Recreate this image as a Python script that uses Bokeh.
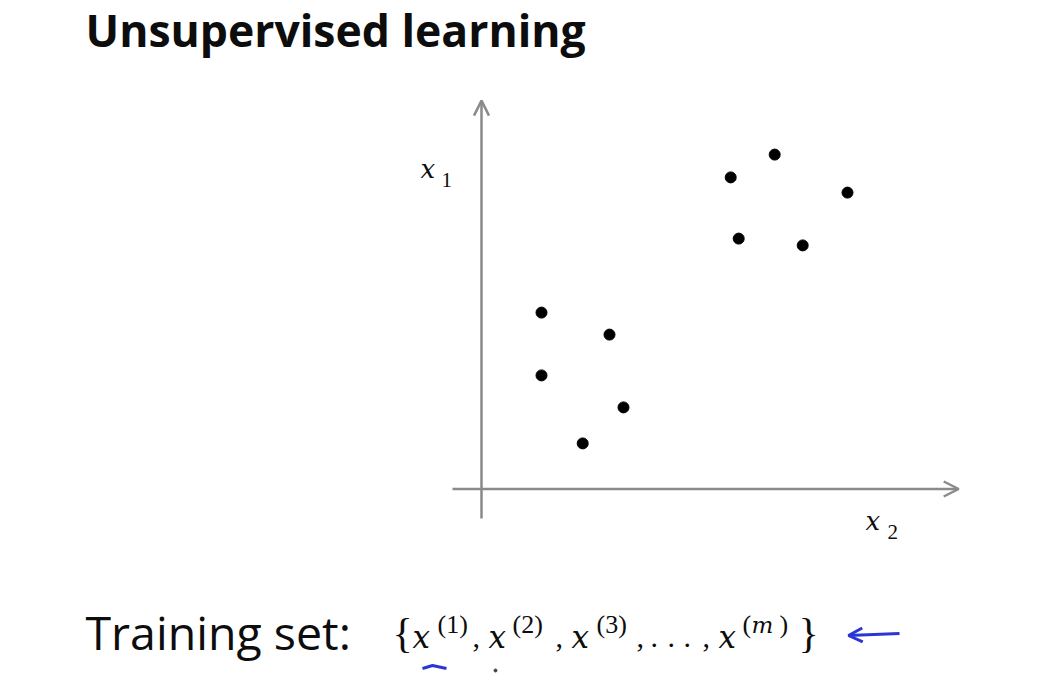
from bokeh.plotting import figure
from bokeh.models import Range1d, Arrow, OpenHead, ColumnDataSource
from bokeh.core.properties import value
from bokeh.embed import file_html
from bokeh.resources import INLINE

# ---- data (x2 horizontal, x1 vertical) ----
x2_values = [6.23, 7.33, 9.15, 6.43, 8.03, 1.50, 3.20, 1.50, 3.55, 2.53]
x1_values = [7.79, 8.36, 7.41, 6.26, 6.09, 4.41, 3.86, 2.84, 2.04, 1.14]

title_text = "Unsupervised learning"
training_text = "Training set:"

W, H = 1042, 678
PX_PER_UNIT = 40.0
ORIGIN_PAGE = (481.0, 488.5)
x_start = -ORIGIN_PAGE[0] / PX_PER_UNIT
y_start = -(H - ORIGIN_PAGE[1]) / PX_PER_UNIT

p = figure(width=W, height=H, output_backend="svg", toolbar_location=None,
           x_range=Range1d(x_start, x_start + W / PX_PER_UNIT),
           y_range=Range1d(y_start, y_start + H / PX_PER_UNIT),
           min_border=0, outline_line_color=None,
           background_fill_color="white", border_fill_color="white")
p.axis.visible = False
p.grid.visible = False
# page-pixel coordinate system for the slide's texts
p.extra_x_ranges = {"px": Range1d(0, W)}
p.extra_y_ranges = {"px": Range1d(H, 0)}

AXIS_COLOR = "#8a8a8a"
# axes with arrow heads
p.add_layout(Arrow(end=OpenHead(size=15, line_color=AXIS_COLOR, line_width=2.5),
                   x_start=-0.725, y_start=0, x_end=11.93, y_end=0,
                   line_color=AXIS_COLOR, line_width=2.5))
p.add_layout(Arrow(end=OpenHead(size=15, line_color=AXIS_COLOR, line_width=2.5),
                   x_start=0, y_start=-0.74, x_end=0, y_end=9.71,
                   line_color=AXIS_COLOR, line_width=2.5))

# data points
p.scatter(x2_values, x1_values, size=11, color="black")

# ---- texts (x = left edge, y = baseline, page pixels) ----
texts = [title_text, training_text,
         "x", "1", "x", "2",
         "{", "x", "(1)", ",", "x", "(2)", ",", "x", "(3)", ",",
         ".", ".", ".", ",", "x", "(", "m", ")", "}"]
tx = [85, 85,
      420, 441, 865, 887,
      392, 412, 437, 472, 488, 512, 555, 571, 596, 636,
      650, 667, 683, 702, 718, 742, 751, 779, 798]
ty = [46, 650,
      178, 187, 530, 539,
      647, 647, 633, 647, 647, 633, 647, 647, 633, 647,
      647, 647, 647, 647, 647, 633, 633, 633, 647]
fonts = ["Open Sans", "Open Sans",
         "DejaVu Serif", "Liberation Serif", "DejaVu Serif", "Liberation Serif",
         "Liberation Serif", "DejaVu Serif", "Liberation Serif", "Liberation Serif",
         "DejaVu Serif", "Liberation Serif", "Liberation Serif",
         "DejaVu Serif", "Liberation Serif", "Liberation Serif",
         "Liberation Serif", "Liberation Serif", "Liberation Serif", "Liberation Serif",
         "DejaVu Serif", "Liberation Serif", "DejaVu Serif", "Liberation Serif",
         "Liberation Serif"]
sizes = [44.5, 46.5,
         26, 21, 26, 21,
         42, 31, 26, 30, 31, 26, 30, 31, 26, 30,
         30, 30, 30, 30, 31, 26, 23, 26, 42]
styles = ["bold", "normal",
          "italic", "normal", "italic", "normal",
          "normal", "italic", "normal", "normal", "italic", "normal", "normal",
          "italic", "normal", "normal",
          "normal", "normal", "normal", "normal", "italic", "normal", "italic",
          "normal", "normal"]
# the svg renderer draws with the em-box middle at y: shift so the baseline lands right
MID = {"Open Sans": 0.39, "DejaVu Serif": 0.35, "Liberation Serif": 0.34}
ty_mid = [y - MID[f] * s for y, s, f in zip(ty, sizes, fonts)]

src = ColumnDataSource(dict(text=texts, x=tx, y=ty_mid, font=fonts,
                            size=[f"{s}px" for s in sizes], style=styles))
p.text(x="x", y="y", text="text", source=src, x_range_name="px", y_range_name="px",
       text_font="font", text_font_size="size", text_font_style="style",
       text_color="#0d0d0d", text_align="left", text_baseline="middle")

# blue pen annotations
BLUE = "#2a35d6"
p.add_layout(Arrow(end=OpenHead(size=14, line_color=BLUE, line_width=3),
                   x_start=899, y_start=633, x_end=848, y_end=635,
                   x_range_name="px", y_range_name="px",
                   line_color=BLUE, line_width=3))
p.line([422, 432, 446], [668, 665, 668], x_range_name="px", y_range_name="px",
       line_color=BLUE, line_width=3)
p.scatter([495], [670], x_range_name="px", y_range_name="px", size=3, color="#444444")

open("out.html", "w").write(file_html(p, INLINE))
